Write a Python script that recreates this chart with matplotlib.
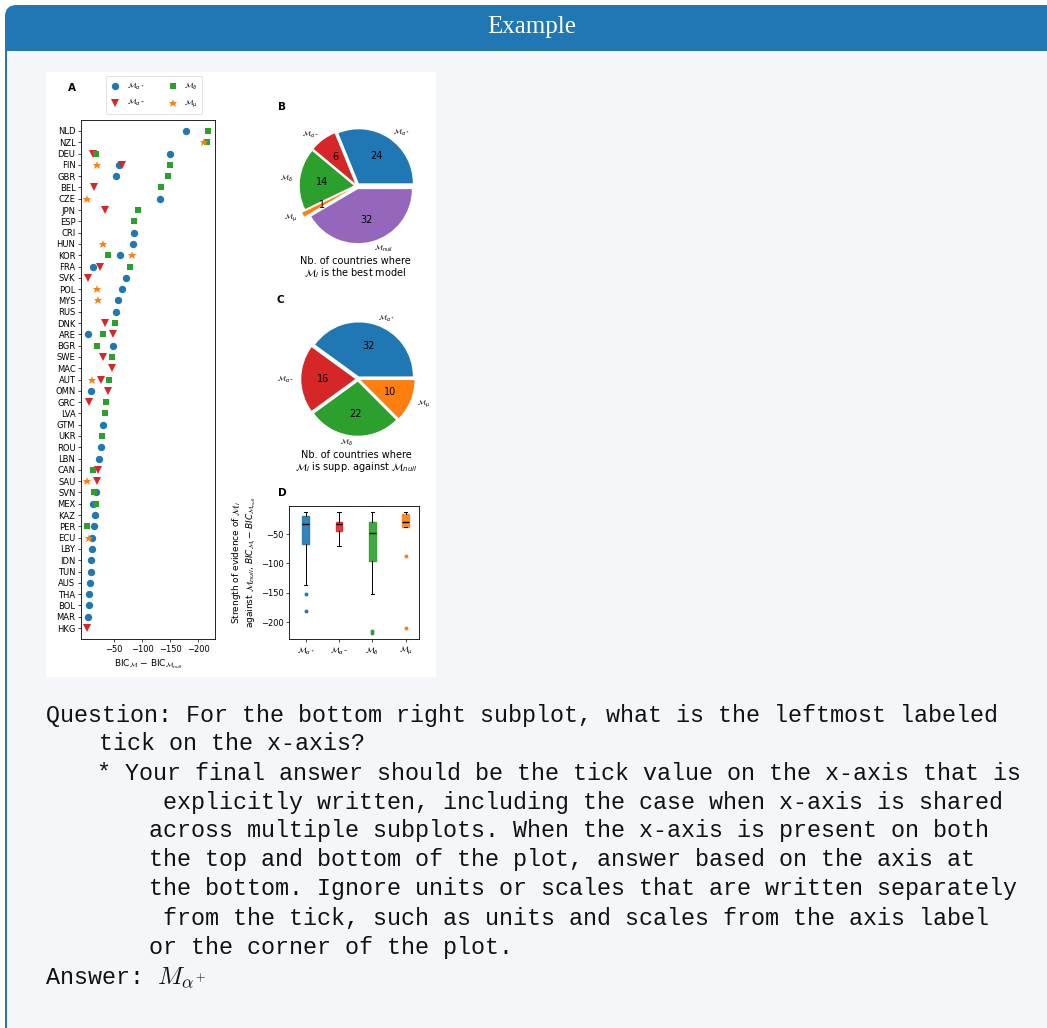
import matplotlib
matplotlib.use('Agg')
import matplotlib.pyplot as plt
from matplotlib.patches import FancyBboxPatch, Rectangle
import numpy as np

# ---------------- data ----------------
countries = ["NLD", "NZL", "DEU", "FIN", "GBR", "BEL", "CZE", "JPN", "ESP", "CRI",
             "HUN", "KOR", "FRA", "SVK", "POL", "MYS", "RUS", "DNK", "ARE", "BGR",
             "SWE", "MAC", "AUT", "OMN", "GRC", "LVA", "GTM", "UKR", "ROU", "LBN",
             "CAN", "SAU", "SVN", "MEX", "KAZ", "PER", "ECU", "LBY", "IDN", "TUN",
             "AUS", "THA", "BOL", "MAR", "HKG"]
nan = np.nan
bic_alpha_plus = [-179, nan, -149, -58, -53, nan, -132, nan, nan, -86,
                  -84, -60, -13, -71, -65, -57, -54, nan, -3, -48,
                  nan, nan, nan, -8, nan, nan, -31, nan, -27, -23,
                  nan, nan, -18, -12, -16, -15, -11, -10, -8, -8,
                  -7, -6, -5, -4, nan]
bic_alpha_minus = [nan, nan, -12, -64, nan, -14, nan, -33, nan, nan,
                   nan, nan, -25, -4, nan, nan, nan, -33, -48, nan,
                   -31, -46, -26, -40, -5, nan, nan, nan, nan, nan,
                   -22, -20, nan, nan, nan, nan, nan, nan, nan, nan,
                   nan, nan, nan, nan, -1]
bic_delta = [-218, -215, -18, -149, -146, -133, nan, -92, -86, nan,
             nan, -39, -79, nan, nan, nan, nan, -52, -30, -19,
             -47, nan, -41, nan, -35, -33, nan, -29, nan, nan,
             -12, nan, -15, -17, nan, -1, nan, nan, nan, nan,
             nan, nan, nan, nan, nan]
bic_mu = [nan, -211, nan, -19, nan, nan, -1, nan, nan, nan,
          -30, -82, nan, nan, -20, -22, nan, nan, nan, nan,
          nan, nan, -10, nan, nan, nan, nan, nan, nan, nan,
          nan, -2, nan, nan, nan, nan, -5, nan, nan, nan,
          nan, nan, nan, nan, nan]

model_labels = [r"$\mathcal{M}_{\alpha^+}$", r"$\mathcal{M}_{\alpha^-}$",
                r"$\mathcal{M}_{\delta}$", r"$\mathcal{M}_{\mu}$"]
null_label = r"$\mathcal{M}_{null}$"

best_counts = [24, 6, 14, 1, 32]          # panel B (a+, a-, delta, mu, null)
supp_counts = [32, 16, 22, 10]            # panel C (a+, a-, delta, mu)

# panel D box statistics (a+, a-, delta, mu)
box_med = [-33, -33, -48, -28.5]
box_q1 = [-67, -44, -95.5, -37]
box_q3 = [-19, -30, -30, -16]
box_whislo = [-136, -71, -152, -38]
box_whishi = [-12.5, -12, -12, -12]
box_fliers = [[-152, -181], [], [-216, -219], [-88, -211]]

x_ticks_a = [-50, -100, -150, -200]
y_ticks_d = [-50, -100, -150, -200]

question_lines = [
    "Question: For the bottom right subplot, what is the leftmost labeled",
    "tick on the x-axis?",
    "* Your final answer should be the tick value on the x-axis that is",
    "explicitly written, including the case when x-axis is shared",
    "across multiple subplots. When the x-axis is present on both",
    "the top and bottom of the plot, answer based on the axis at",
    "the bottom. Ignore units or scales that are written separately",
    "from the tick, such as units and scales from the axis label",
    "or the corner of the plot.",
]

# ---------------- style ----------------
C_BLUE = '#1f77b4'
C_RED = '#d62728'
C_GREEN = '#2ca02c'
C_ORANGE = '#ff7f0e'
C_PURPLE = '#9467bd'
model_colors = [C_BLUE, C_RED, C_GREEN, C_ORANGE]

W, H = 1047, 1028
fig = plt.figure(figsize=(W / 100, H / 100), dpi=100)
fig.patch.set_facecolor('white')


def fx(x):
    return x / W


def fy(y):
    return 1 - y / H


def add_ax(l, t, r, b):
    ax = fig.add_axes([l / W, 1 - b / H, (r - l) / W, (b - t) / H])
    ax.set_zorder(5)
    return ax


# ---------------- frame ----------------
hdr = '#2077b4'
fig.patches.append(FancyBboxPatch((fx(5), fy(1080)), (1100 - 5) / W, (1080 - 5) / H,
                                  boxstyle='round,pad=0,rounding_size=0.011',
                                  transform=fig.transFigure, facecolor=hdr,
                                  edgecolor='none', zorder=-3))
fig.patches.append(Rectangle((fx(7), fy(1080)), (1100 - 7) / W, (1080 - 51) / H,
                             transform=fig.transFigure, facecolor='#f4f6fa',
                             edgecolor='none', zorder=-2))
fig.patches.append(Rectangle((fx(46), fy(677)), (436 - 46) / W, (677 - 72) / H,
                             transform=fig.transFigure, facecolor='white',
                             edgecolor='none', zorder=-1))
fig.text(fx(532), fy(27), "Example", color='white', fontsize=18,
         family='Liberation Serif', ha='center', va='center')

# ---------------- panel A ----------------
axA = add_ax(81, 120, 215, 639)
ypos = np.arange(len(countries))
ms = 5.3
axA.plot(bic_alpha_plus, ypos, 'o', color=C_BLUE, ms=ms, mew=0, label=model_labels[0])
axA.plot(bic_alpha_minus, ypos, 'v', color=C_RED, ms=ms, mew=0, label=model_labels[1])
axA.plot(bic_delta, ypos, 's', color=C_GREEN, ms=ms * 0.88, mew=0, label=model_labels[2])
axA.plot(bic_mu, ypos, '*', color=C_ORANGE, ms=ms * 1.2, mew=0, label=model_labels[3])
axA.set_yticks(ypos)
axA.set_yticklabels(countries)
axA.set_ylim(len(countries) - 1 + 0.97, -0.97)
axA.set_xticks(x_ticks_a)
axA.set_xlim(9, -230)
axA.tick_params(labelsize=6, length=2.5, width=0.5, pad=1.5)
for s in axA.spines.values():
    s.set_linewidth(0.6)
fig.text(fx(148), fy(664), r"BIC$_{\mathcal{M}}$ $-$ BIC$_{\mathcal{M}_{null}}$",
         fontsize=6.5, ha='center', va='center')
handles, labs = axA.get_legend_handles_labels()
leg = fig.legend(handles, labs, ncol=2, loc='center',
                 bbox_to_anchor=(fx(154), fy(95)), fontsize=5.3,
                 frameon=True, handletextpad=0.9, columnspacing=3.2,
                 borderpad=0.6, labelspacing=0.75, handlelength=1.3,
                 markerscale=1.0)
leg.get_frame().set_linewidth(0.5)
fig.text(fx(72), fy(88), "A", fontsize=7.5, weight='bold', ha='center', va='center')

# ---------------- panel B ----------------
R = 54
cxB, cyB = 357, 186
axB = add_ax(cxB - 1.5 * R, cyB - 1.5 * R, cxB + 1.5 * R, cyB + 1.5 * R)
totB = sum(best_counts)
wB, tB, aB = axB.pie(best_counts, labels=model_labels + [null_label],
                     colors=model_colors + [C_PURPLE],
                     explode=[0.06, 0.06, 0.06, 0.13, 0.06], startangle=0,
                     autopct=lambda p: f"{int(round(p * totB / 100))}",
                     pctdistance=0.6, labeldistance=1.13,
                     textprops=dict(fontsize=5))
for t in aB:
    t.set_fontsize(7)
axB.set_xlim(-1.5, 1.5)
axB.set_ylim(-1.5, 1.5)
fig.text(fx(355), fy(268), "Nb. of countries where\n" + r"$\mathcal{M}_i$ is the best model",
         fontsize=7, ha='center', va='center', linespacing=1.1)
fig.text(fx(282), fy(107), "B", fontsize=7.5, weight='bold', ha='center', va='center')

# ---------------- panel C ----------------
cxC, cyC = 358, 379
axC = add_ax(cxC - 1.5 * R, cyC - 1.5 * R, cxC + 1.5 * R, cyC + 1.5 * R)
totC = sum(supp_counts)
wC, tC, aC = axC.pie(supp_counts, labels=model_labels, colors=model_colors,
                     explode=[0.05] * 4, startangle=0,
                     autopct=lambda p: f"{int(round(p * totC / 100))}",
                     pctdistance=0.6, labeldistance=1.13,
                     textprops=dict(fontsize=5))
for t in aC:
    t.set_fontsize(7)
axC.set_xlim(-1.5, 1.5)
axC.set_ylim(-1.5, 1.5)
fig.text(fx(356), fy(462), "Nb. of countries where\n" +
         r"$\mathcal{M}_i$ is supp. against $\mathcal{M}_{null}$",
         fontsize=7, ha='center', va='center', linespacing=1.1)
fig.text(fx(280), fy(300), "C", fontsize=7.5, weight='bold', ha='center', va='center')

# ---------------- panel D ----------------
axD = add_ax(289, 506, 419, 639)
stats = []
for i in range(4):
    stats.append(dict(med=box_med[i], q1=box_q1[i], q3=box_q3[i],
                      whislo=box_whislo[i], whishi=box_whishi[i],
                      fliers=box_fliers[i], label=model_labels[i]))
bp = axD.bxp(stats, positions=[1, 2, 3, 4], widths=0.2, patch_artist=True,
             medianprops=dict(color='black', lw=1.0),
             whiskerprops=dict(lw=0.7), capprops=dict(lw=0.7),
             flierprops=dict(marker='o', markersize=2.8, markeredgecolor='none'))
for i, c in enumerate(model_colors):
    bp['boxes'][i].set_facecolor(c)
    bp['boxes'][i].set_edgecolor(c)
    bp['boxes'][i].set_alpha(0.9)
    bp['fliers'][i].set_markerfacecolor(c)
axD.set_xlim(0.5, 4.4)
axD.set_ylim(-229, -2)
axD.set_yticks(y_ticks_d)
axD.tick_params(axis='y', labelsize=6, length=2.5, width=0.5, pad=1.5)
axD.tick_params(axis='x', labelsize=5.5, length=2.5, width=0.5, pad=2)
for s in axD.spines.values():
    s.set_linewidth(0.6)
fig.text(fx(244), fy(562), r"Strength of evidence of $\mathcal{M}_i$" + "\n" +
         r"against $\mathcal{M}_{null}$, $BIC_{\mathcal{M}_i} - BIC_{\mathcal{M}_{null}}$",
         fontsize=6.5, rotation=90, ha='center', va='center', linespacing=1.1)
fig.text(fx(282), fy(493), "D", fontsize=7.5, weight='bold', ha='center', va='center')

# ---------------- question text ----------------
xs = [46, 99, 97, 163, 149, 149, 149, 163, 149]
ys = [715, 743, 773, 802, 830, 859, 888, 918, 947]
for line, x, y in zip(question_lines, xs, ys):
    fig.text(fx(x), fy(y + 7), line, fontsize=16.8, family='Liberation Mono',
             color='#111111', ha='left', va='baseline')
fig.text(fx(46), fy(977 + 7), "Answer:", fontsize=16.8, family='Liberation Mono',
         color='#111111', ha='left', va='baseline')
fig.text(fx(157), fy(977 + 7), r"$M_{\alpha^+}$", fontsize=18, math_fontfamily='cm',
         color='#111111', ha='left', va='baseline')

fig.savefig('out.png', dpi=100, facecolor=fig.get_facecolor())
